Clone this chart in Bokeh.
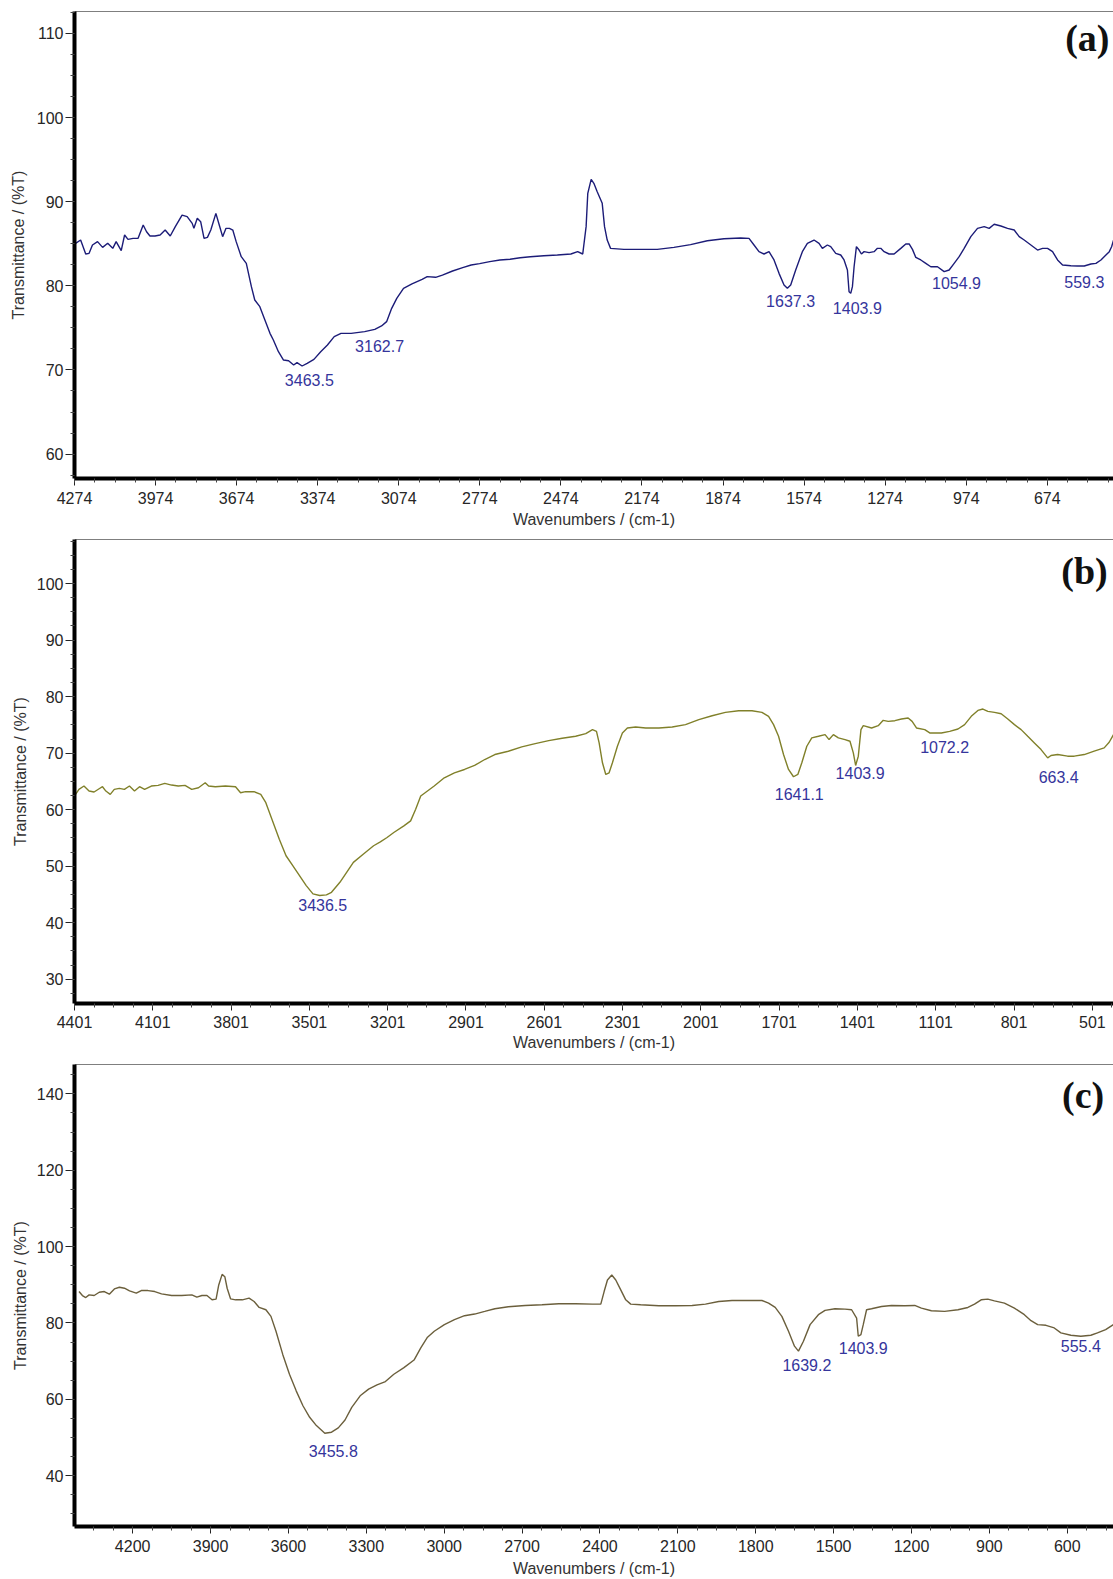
from bokeh.plotting import figure
from bokeh.layouts import column
from bokeh.models import Range1d, FixedTicker, Span
from bokeh.embed import file_html
from bokeh.resources import INLINE
from bokeh.core.properties import value

# ---------------- Panel (a) ----------------
wn_a = [4270.0, 4251.3, 4232.5, 4220.0, 4207.5, 4188.7, 4170.0, 4151.2, 4132.4, 4119.9,
        4101.1, 4088.6, 4076.1, 4057.3, 4038.6, 4019.8, 4007.3, 3994.8, 3976.0, 3957.2,
        3938.5, 3919.7, 3900.9, 3875.9, 3857.1, 3838.4, 3832.1, 3819.6, 3807.1, 3794.6,
        3782.1, 3769.6, 3750.8, 3738.3, 3725.8, 3713.3, 3700.7, 3688.2, 3675.7, 3656.9,
        3638.2, 3619.4, 3606.9, 3588.1, 3569.4, 3550.6, 3538.1, 3519.3, 3500.5, 3481.8,
        3463.0, 3450.5, 3431.7, 3413.0, 3387.9, 3362.9, 3337.9, 3312.9, 3287.8, 3250.3,
        3200.3, 3162.7, 3137.7, 3119.0, 3100.2, 3081.4, 3056.4, 3025.1, 2987.6, 2968.8,
        2937.5, 2912.5, 2874.9, 2837.4, 2806.1, 2774.8, 2737.3, 2699.8, 2662.2, 2624.7,
        2587.2, 2537.1, 2487.1, 2437.0, 2412.0, 2393.2, 2380.7, 2374.5, 2362.0,
        2352.0, 2339.6, 2321.1, 2312.5, 2302.6, 2290.2, 2240.8, 2179.1, 2117.4, 2055.7,
        1994.0, 1932.2, 1870.5, 1808.8, 1777.9, 1759.4, 1740.9, 1722.4, 1703.8, 1685.3,
        1666.8, 1648.3, 1635.9, 1623.6, 1605.1, 1580.4, 1561.9, 1537.2, 1518.7, 1506.3,
        1487.8, 1475.5, 1456.9, 1438.4, 1426.1, 1413.7, 1407.6, 1401.4, 1395.2, 1389.0,
        1380.4, 1370.5, 1361.9, 1352.0, 1333.5, 1315.0, 1302.6, 1290.3, 1277.9, 1259.4,
        1240.9, 1216.2, 1197.7, 1185.3, 1173.0, 1160.7, 1142.1, 1123.6, 1105.1, 1080.4,
        1055.7, 1037.2, 1018.7, 1000.2, 981.7, 957.0, 932.3, 907.6, 889.1, 870.6,
        845.9, 821.2, 796.5, 778.0, 759.5, 734.8, 710.1, 691.6, 673.0, 654.5,
        636.0, 617.5, 586.6, 562.0, 537.3, 512.6, 494.0, 475.5, 457.0, 444.6,
        436.0, 428.6]
t_a = [85.05, 85.44, 83.78, 83.86, 84.85, 85.25, 84.57, 85.05, 84.45, 85.25,
       84.18, 86.04, 85.52, 85.64, 85.64, 87.23, 86.43, 85.92, 85.92, 86.04,
       86.63, 85.92, 87.03, 88.41, 88.22, 87.42, 86.83, 88.02, 87.62, 85.64,
       85.76, 86.63, 88.61, 87.23, 85.84, 86.83, 86.83, 86.63, 85.25, 83.46,
       82.67, 79.90, 78.31, 77.52, 75.94, 74.35, 73.56, 72.17, 71.18, 71.10,
       70.59, 70.87, 70.47, 70.79, 71.26, 72.17, 72.97, 73.96, 74.35, 74.35,
       74.55, 74.83, 75.23, 75.74, 77.32, 78.51, 79.70, 80.22, 80.77, 81.09,
       81.01, 81.28, 81.76, 82.16, 82.47, 82.63, 82.87, 83.07, 83.15, 83.34,
       83.46, 83.58, 83.66, 83.78, 84.06, 83.78, 87.03, 90.99, 92.65,
       92.18, 91.19, 89.80, 87.03, 85.44, 84.45, 84.33, 84.33, 84.33, 84.57,
       84.89, 85.36, 85.60, 85.68, 85.64, 84.85, 84.06, 83.78, 84.06, 83.07,
       81.48, 80.10, 79.70, 80.10, 81.88, 84.06, 85.05, 85.44, 85.05, 84.45,
       84.85, 84.65, 83.86, 83.66, 83.07, 81.88, 79.30, 79.11, 79.90, 82.27,
       84.65, 84.25, 83.78, 84.06, 83.94, 84.06, 84.45, 84.45, 84.06, 83.78,
       83.78, 84.45, 84.97, 84.97, 84.33, 83.38, 83.07, 82.67, 82.27, 82.27,
       81.68, 81.88, 82.67, 83.46, 84.45, 85.84, 86.83, 87.03, 86.83, 87.31,
       87.11, 86.83, 86.63, 85.84, 85.44, 84.85, 84.25, 84.45, 84.45, 84.06,
       83.07, 82.47, 82.39, 82.35, 82.35, 82.59, 82.67, 83.07, 83.66, 84.06,
       84.65, 85.44]
peaks_a = ["3463.5", "3162.7", "1637.3", "1403.9", "1054.9", "559.3"]
peak_lab_wn_a = [3405, 3145, 1624, 1377, 1010, 537]
peak_lab_t_a = [68.8, 72.85, 78.2, 77.4, 80.3, 80.4]
xticks_a = [4274, 3974, 3674, 3374, 3074, 2774, 2474, 2174, 1874, 1574, 1274, 974, 674]
yticks_a = [60, 70, 80, 90, 100, 110]

# ---------------- Panel (b) ----------------
wn_b = [4396.9, 4384.0, 4364.7, 4345.3, 4326.0, 4306.6, 4293.7, 4280.8, 4264.0, 4248.6,
        4229.2, 4209.9, 4190.5, 4171.1, 4151.8, 4132.4, 4106.6, 4080.8, 4055.0, 4029.2,
        4003.4, 3977.6, 3951.8, 3926.0, 3900.2, 3887.3, 3861.5, 3822.8, 3784.1, 3764.7,
        3745.3, 3713.1, 3687.3, 3667.9, 3642.1, 3616.3, 3590.5, 3564.7, 3538.9, 3513.1,
        3487.3, 3461.5, 3435.7, 3416.3, 3384.1, 3358.3, 3332.5, 3293.7, 3255.0, 3229.2,
        3203.4, 3177.6, 3139.0, 3113.1, 3093.8, 3074.4, 3048.6, 3022.8, 2984.1, 2945.4,
        2906.7, 2868.0, 2829.2, 2790.5, 2738.9, 2687.3, 2635.7, 2584.1, 2532.5, 2480.8,
        2442.1,
        2416.3, 2401.0, 2390.8, 2378.1, 2365.4, 2352.6, 2339.9, 2320.8, 2301.7, 2282.6,
        2250.8, 2212.6, 2161.7, 2110.8, 2059.8, 2008.9, 1958.0, 1907.1, 1856.1, 1805.2,
        1767.0, 1741.6, 1722.5, 1703.4, 1684.3, 1665.2, 1646.1, 1629.5, 1614.2, 1595.1,
        1576.0, 1550.6, 1525.1, 1509.8, 1493.3, 1474.2, 1448.7, 1429.7, 1416.9, 1408.0,
        1397.8, 1387.6, 1378.7, 1346.9, 1321.4, 1302.4, 1283.2, 1257.8, 1232.3, 1206.9,
        1191.6, 1175.0, 1143.2, 1124.1, 1079.6, 1047.7, 1015.9, 990.4, 965.0, 939.5,
        920.4, 901.3, 875.9, 850.4, 825.0, 799.5, 774.0, 748.6, 723.1, 697.6,
        672.2, 659.4, 634.0, 595.8, 570.3, 532.1, 494.0, 455.7, 436.6, 420.0]
t_b = [62.71, 63.59, 64.18, 63.29, 63.12, 63.70, 64.06, 63.29, 62.71, 63.59,
       63.76, 63.59, 64.18, 63.29, 64.06, 63.59, 64.18, 64.29, 64.64, 64.35,
       64.18, 64.29, 63.59, 63.88, 64.76, 64.18, 64.06, 64.18, 64.06, 63.00,
       63.18, 63.18, 62.71, 61.24, 58.01, 54.78, 51.84, 50.08, 48.32, 46.56,
       45.09, 44.80, 44.92, 45.38, 47.15, 48.91, 50.67, 52.14, 53.61, 54.31,
       55.07, 55.95, 57.13, 58.01, 60.06, 62.41, 63.29, 64.18, 65.64, 66.52,
       67.11, 67.82, 68.87, 69.75, 70.34, 71.10, 71.69, 72.22, 72.63, 72.98,
       73.45,
       74.16, 73.86, 71.81, 68.29, 66.23, 66.52, 68.29, 71.22, 73.57, 74.45,
       74.63, 74.45, 74.45, 74.63, 75.04, 75.92, 76.62, 77.21, 77.50, 77.50,
       77.21, 76.51, 75.04, 72.98, 69.75, 67.11, 65.82, 66.23, 68.29, 71.22,
       72.69, 72.98, 73.28, 72.40, 73.28, 72.69, 72.40, 72.10, 70.05, 67.82,
       69.46, 74.16, 74.86, 74.45, 74.86, 75.80, 75.62, 75.74, 76.04, 76.21,
       75.62, 74.45, 74.16, 73.57, 73.57, 73.86, 74.27, 75.04, 76.51, 77.56,
       77.80, 77.39, 77.21, 76.97, 76.04, 75.04, 74.16, 72.98, 71.81, 70.63,
       69.17, 69.58, 69.75, 69.46, 69.46, 69.75, 70.34, 70.93, 71.92, 73.28]
peaks_b = ["3436.5", "1641.1", "1403.9", "1072.2", "663.4"]
peak_lab_wn_b = [3450, 1624, 1391, 1067, 630]
peak_lab_t_b = [43.2, 62.7, 66.5, 71.1, 65.8]
xticks_b = [4401, 4101, 3801, 3501, 3201, 2901, 2601, 2301, 2001, 1701, 1401, 1101, 801, 501]
yticks_b = [30, 40, 50, 60, 70, 80, 90, 100]

# ---------------- Panel (c) ----------------
wn_c = [4406.6, 4393.6, 4380.6, 4367.7, 4348.2, 4328.8, 4309.3, 4289.9, 4270.4, 4251.0,
        4231.5, 4212.0, 4186.1, 4166.7, 4140.7, 4114.8, 4088.8, 4049.9, 4011.0, 3972.1,
        3952.7, 3933.2, 3913.8, 3894.3, 3878.7, 3868.4, 3855.4, 3845.0, 3836.0, 3823.0,
        3803.5, 3777.6, 3751.6, 3732.2, 3712.7, 3686.8, 3667.3, 3647.9, 3621.9, 3596.0,
        3570.1, 3544.1, 3518.2, 3492.3, 3459.8, 3433.9, 3408.0, 3382.0, 3356.1, 3323.7,
        3291.2, 3258.8, 3226.4, 3194.0, 3155.1, 3116.2, 3090.2, 3064.3, 3038.3, 2999.4,
        2960.5, 2921.6, 2882.7, 2843.8, 2804.9, 2753.0, 2688.2, 2623.3, 2558.5, 2493.7,
        2428.8, 2396.8, 2384.0, 2371.2, 2354.6, 2339.2, 2320.0, 2300.8, 2281.6, 2243.3,
        2172.9, 2108.9, 2044.9, 1993.7, 1942.6, 1891.4, 1840.2, 1776.2, 1750.6, 1725.0,
        1699.4, 1673.8, 1650.8, 1635.4, 1616.3, 1590.7, 1558.7, 1533.1, 1494.7, 1456.3,
        1430.7, 1411.5, 1405.1, 1394.9, 1385.9, 1373.1, 1354.0, 1315.5, 1277.2, 1226.0,
        1187.6, 1162.0, 1123.6, 1072.4, 1021.2, 982.9, 957.3, 931.7, 906.1, 880.5,
        842.1, 803.7, 765.3, 739.7, 714.1, 682.1, 650.2, 624.6, 586.2, 547.8,
        509.4, 483.8, 452.3, 422.3]
t_c = [88.23, 87.19, 86.67, 87.37, 87.19, 88.06, 88.23, 87.54, 88.93, 89.36,
       89.10, 88.41, 87.80, 88.49, 88.49, 88.23, 87.63, 87.19, 87.19, 87.37,
       86.76, 87.19, 87.19, 86.07, 86.24, 89.97, 92.74, 92.13, 89.10, 86.33,
       86.07, 86.07, 86.50, 85.63, 84.07, 83.47, 81.73, 77.83, 71.77, 66.57,
       62.23, 58.33, 55.30, 53.13, 51.14, 51.40, 52.52, 54.60, 57.90, 60.93,
       62.67, 63.79, 64.66, 66.57, 68.30, 70.29, 73.50, 76.27, 77.83, 79.57,
       80.87, 81.91, 82.34, 83.03, 83.73, 84.25, 84.59, 84.77, 85.03, 85.03,
       84.94, 84.94, 88.23, 91.27, 92.57, 91.27, 88.67, 86.07, 84.94, 84.77,
       84.51, 84.51, 84.59, 84.94, 85.63, 85.89, 85.89, 85.89, 85.20, 84.07,
       81.73, 77.83, 73.93, 72.63, 75.23, 79.57, 82.17, 83.29, 83.73, 83.64,
       83.47, 81.30, 76.53, 76.97, 79.57, 83.47, 83.73, 84.33, 84.59, 84.51,
       84.59, 83.90, 83.21, 83.03, 83.47, 84.07, 84.94, 86.07, 86.24, 85.81,
       85.20, 83.90, 82.17, 80.61, 79.57, 79.39, 78.70, 77.40, 76.79, 76.53,
       76.79, 77.40, 78.27, 79.57]
peaks_c = ["3455.8", "1639.2", "1403.9", "555.4"]
peak_lab_wn_c = [3427, 1603, 1386, 548]
peak_lab_t_c = [46.6, 69.0, 73.5, 73.9]
xticks_c = [4200, 3900, 3600, 3300, 3000, 2700, 2400, 2100, 1800, 1500, 1200, 900, 600]
yticks_c = [40, 60, 80, 100, 120, 140]

FONT = "Liberation Sans"
PEAK_COLOR = "#35359c"


def minor_list(first_major, step, n_sub, lo, hi):
    sub = step / n_sub
    vals = []
    for k in range(-200, 200):
        v = first_major + k * sub
        if lo <= v <= hi:
            vals.append(v)
    return vals


def make_panel(wn, t, color, xr, yr, xticks, xstep, yticks, ystep,
               peaks, pk_x, pk_y, letter, letter_x, letter_y,
               height, b_top, b_bottom, b_left, ylab_standoff, xtick_standoff, xlab_standoff):
    p = figure(width=1113, height=height, output_backend="svg", toolbar_location=None,
               x_range=Range1d(xr[0], xr[1]), y_range=Range1d(yr[0], yr[1]),
               min_border_top=b_top, min_border_bottom=b_bottom,
               min_border_left=b_left, min_border_right=0,
               background_fill_color="white", border_fill_color="white")
    p.outline_line_color = None
    p.grid.visible = False
    lo_x, hi_x = min(xr), max(xr)
    p.xaxis.ticker = FixedTicker(ticks=xticks,
                                 minor_ticks=minor_list(xticks[0], xstep, 4, lo_x, hi_x))
    p.yaxis.ticker = FixedTicker(ticks=yticks,
                                 minor_ticks=minor_list(yticks[0], ystep, 4, yr[0], yr[1]))
    p.xaxis.axis_label = "Wavenumbers / (cm-1)"
    p.yaxis.axis_label = "Transmittance / (%T)"
    for ax in (p.xaxis[0], p.yaxis[0]):
        ax.axis_line_width = 4
        ax.axis_line_color = "black"
        ax.major_tick_line_color = "#222222"
        ax.minor_tick_line_color = "#444444"
        ax.major_tick_in = 0
        ax.minor_tick_in = 0
        ax.minor_tick_out = 4
        ax.major_label_text_font = FONT
        ax.major_label_text_font_size = "16px"
        ax.major_label_text_color = "#262626"
        ax.axis_label_text_font = FONT
        ax.axis_label_text_font_size = "16px"
        ax.axis_label_text_font_style = "normal"
        ax.axis_label_text_color = "#333333"
    p.xaxis.major_tick_out = 7
    p.xaxis.major_label_standoff = xtick_standoff
    p.xaxis.axis_label_standoff = xlab_standoff
    p.yaxis.major_tick_out = 9
    p.yaxis.major_label_standoff = 2
    p.yaxis.axis_label_standoff = ylab_standoff

    p.line(wn, t, line_color=color, line_width=1.4)
    p.text(x=pk_x, y=pk_y, text=peaks, text_align="center", text_baseline="middle",
           text_font=value(FONT), text_font_size="16px", text_color=PEAK_COLOR)
    p.text(x=[letter_x], y=[letter_y], text=[letter], text_align="center",
           text_baseline="middle", text_font=value("Liberation Serif"),
           text_font_size="38px", text_font_style="bold", text_color="#111111")
    p.add_layout(Span(location=yr[1], dimension="width", line_color="black", line_width=1))
    return p


pa = make_panel(wn_a, t_a, "#1c1c78", (4274, 429), (57.1, 112.6), xticks_a, 300, yticks_a, 10,
                peaks_a, peak_lab_wn_a, peak_lab_t_a, "(a)", 526, 109.4,
                530, 11, 52, 74, 7, 6, 4)
pb = make_panel(wn_b, t_b, "#80802a", (4401, 420), (25.7, 107.8), xticks_b, 300, yticks_b, 10,
                peaks_b, peak_lab_wn_b, peak_lab_t_b, "(b)", 531, 102.2,
                523, 9, 48, 70, 5, 5, 3)
pc = make_panel(wn_c, t_c, "#6b5f3c", (4424, 422), (26.7, 147.7), xticks_c, 300, yticks_c, 20,
                peaks_c, peak_lab_wn_c, peak_lab_t_c, "(c)", 539, 139.7,
                526, 11, 49, 70, 5, 6, 5)

layout = column(pa, pb, pc, spacing=0)
open("out.html", "w").write(file_html(layout, INLINE))
